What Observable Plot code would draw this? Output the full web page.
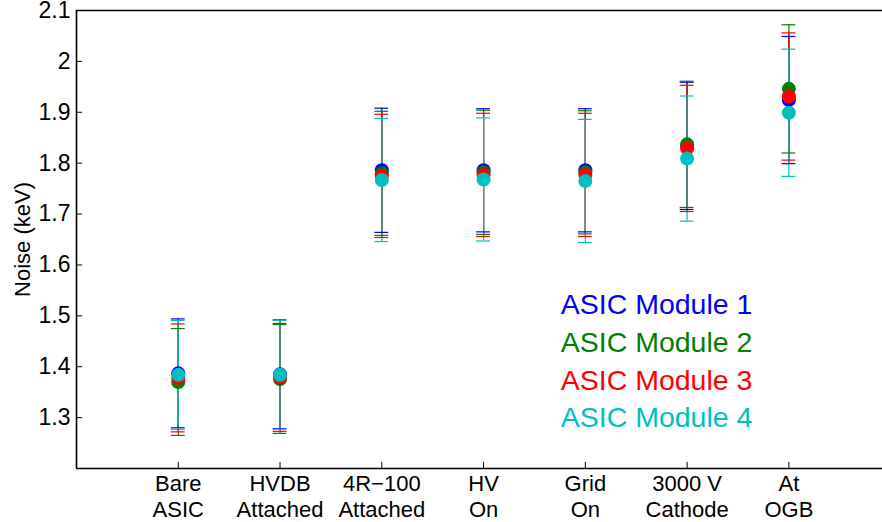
<!DOCTYPE html>
<html><head><meta charset="utf-8">
<script src="https://cdn.jsdelivr.net/npm/d3@7"></script>
<script src="https://cdn.jsdelivr.net/npm/@observablehq/plot@0.6"></script>
<style>body{margin:0;background:#fff;} #chart svg{display:block;overflow:visible}</style>
</head><body><div id="chart"></div><script>
const categories = ["Bare\nASIC","HVDB\nAttached","4R\u2212100\nAttached","HV\nOn","Grid\nOn","3000 V\nCathode","At\nOGB"];
const modules = ["ASIC Module 1","ASIC Module 2","ASIC Module 3","ASIC Module 4"];
const colors = ["#0000ff","#008000","#ff0000","#00bfbf"];
// mean noise (keV) per stage
const mean1 = [1.387, 1.385, 1.786, 1.786, 1.786, 1.834, 1.924];
const mean2 = [1.370, 1.376, 1.780, 1.782, 1.782, 1.837, 1.946];
const mean3 = [1.378, 1.379, 1.775, 1.777, 1.777, 1.829, 1.931];
const mean4 = [1.384, 1.384, 1.767, 1.768, 1.765, 1.809, 1.899];
// error bar half-widths (keV)
const err1 = [0.107, 0.107, 0.122, 0.121, 0.121, 0.125, 0.125];
const err2 = [0.105, 0.107, 0.122, 0.122, 0.121, 0.124, 0.126];
const err3 = [0.106, 0.106, 0.121, 0.121, 0.121, 0.124, 0.125];
const err4 = [0.107, 0.107, 0.121, 0.121, 0.121, 0.123, 0.125];
const yTicks = [1.3, 1.4, 1.5, 1.6, 1.7, 1.8, 1.9, 2, 2.1];
const yLabel = "Noise (keV)";

const means = [mean1, mean2, mean3, mean4];
const errs = [err1, err2, err3, err4];
const rows = [];
modules.forEach((m, k) => {
  categories.forEach((c, i) => {
    rows.push({module: m, x: i + 1, mean: means[k][i], lo: means[k][i] - errs[k][i], hi: means[k][i] + errs[k][i]});
  });
});
const xPos = categories.map((c, i) => i + 1);
const capHalf = 0.068;
const legendRows = modules.map((m, k) => ({module: m, x: 5.7, y: 1.522 - k * 0.0745}));

const chart = Plot.plot({
  width: 882,
  height: 522,
  marginLeft: 76,
  marginRight: 0,
  marginTop: 10,
  marginBottom: 54,
  style: {fontFamily: "'Liberation Sans', Arial, Helvetica, sans-serif", fontSize: "22px", color: "#000", background: "#fff"},
  x: {domain: [0, 7.92], axis: null},
  y: {domain: [1.2, 2.1], axis: null},
  color: {domain: modules, range: colors},
  marks: [
    Plot.ruleX(rows, {x: "x", y1: "lo", y2: "hi", stroke: "module", strokeWidth: 1.2}),
    Plot.ruleY(rows, {y: "hi", x1: d => d.x - capHalf, x2: d => d.x + capHalf, stroke: "module", strokeWidth: 1.2}),
    Plot.ruleY(rows, {y: "lo", x1: d => d.x - capHalf, x2: d => d.x + capHalf, stroke: "module", strokeWidth: 1.2}),
    Plot.dot(rows, {x: "x", y: "mean", fill: "module", r: 7}),
    Plot.text(legendRows, {x: "x", y: "y", text: "module", fill: d => d.module, fontSize: 28.5, textAnchor: "middle"}),
    Plot.ruleY(yTicks, {x1: 0, x2: 0.06, stroke: "#000", strokeWidth: 1}),
    Plot.ruleX(xPos, {y1: 1.2, y2: 1.212, stroke: "#000", strokeWidth: 1}),
    Plot.axisY(yTicks, {tickSize: 0, tickPadding: 6, fontSize: 23, tickFormat: d => String(d), label: null}),
    Plot.axisX(xPos, {tickSize: 0, tickPadding: 5, fontSize: 22, lineHeight: 1.15, tickFormat: d => categories[d - 1], label: null}),
    Plot.text([yLabel], {frameAnchor: "left", dx: -54, rotate: -90, text: d => d, fontSize: 22, textAnchor: "middle", lineAnchor: "middle"}),
    Plot.ruleX([0], {y1: 1.2, y2: 2.1, stroke: "#000", strokeWidth: 1.6}),
    Plot.ruleY([1.2, 2.1], {stroke: "#000", strokeWidth: 1.6})
  ]
});
document.getElementById("chart").append(chart);
</script></body></html>
